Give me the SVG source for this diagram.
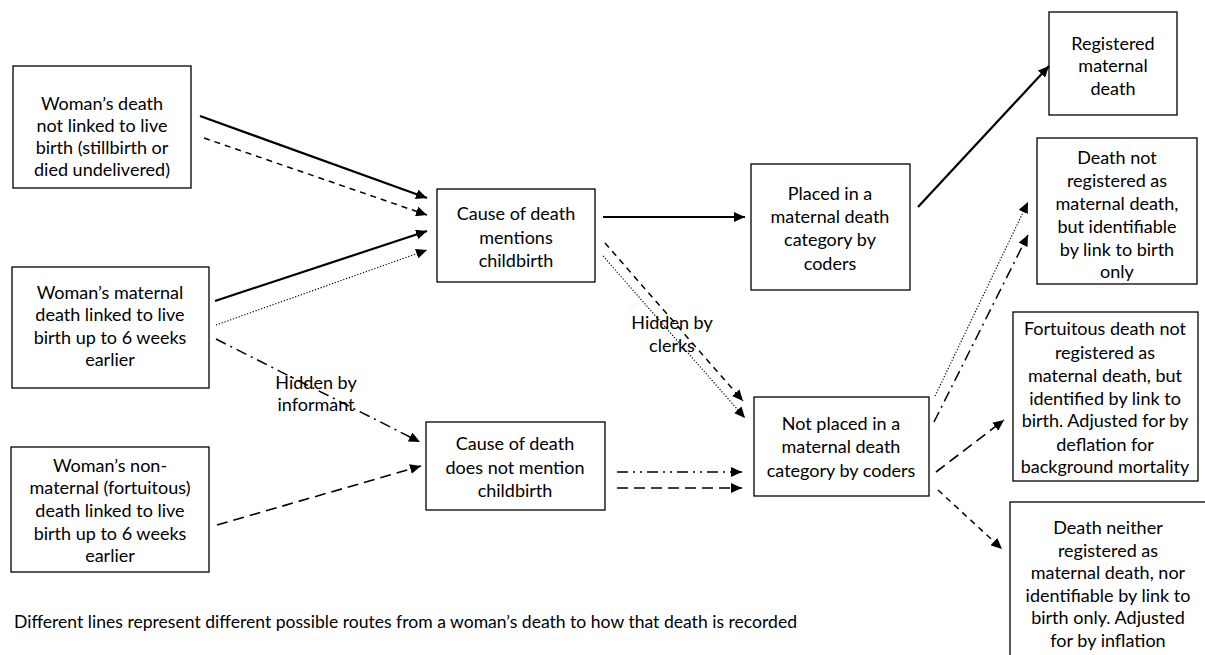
<svg xmlns="http://www.w3.org/2000/svg" width="1205" height="655" viewBox="0 0 1205 655">
<style>
.box{fill:#fff;stroke:#000;stroke-width:1.3}
text{font-family:Lato,"Open Sans","Liberation Sans",sans-serif;font-size:18px;fill:#000;text-anchor:middle;dominant-baseline:central}
.c{fill:none;stroke:#000}
.solid{stroke-width:2.2}
.dash{stroke-width:1.5;stroke-dasharray:6 5}
.dot{stroke-width:1.2;stroke-dasharray:1.2 1.8}
.long{stroke-width:1.6;stroke-dasharray:11 6}
.dd{stroke-width:1.5;stroke-dasharray:11 5 2 5}
.ddd{stroke-width:1.5;stroke-dasharray:11 5 2 5 2 5}
</style>
<defs>
<marker id="ah" markerUnits="userSpaceOnUse" markerWidth="12" markerHeight="10" refX="11" refY="5" orient="auto"><path d="M0,0 L11,5 L0,10 Z" fill="#000"/></marker>
</defs>
<g id="n1"><rect class="box" x="13" y="66" width="178" height="122"/>
<text x="102" y="103">Woman’s death</text><text x="102" y="125">not linked to live</text><text x="102" y="147">birth (stillbirth or</text><text x="102" y="169">died undelivered)</text></g>
<g id="n2"><rect class="box" x="12" y="267" width="197" height="121"/>
<text x="110" y="292">Woman’s maternal</text><text x="110" y="314">death linked to live</text><text x="110" y="337">birth up to 6 weeks</text><text x="110" y="359">earlier</text></g>
<g id="n3"><rect class="box" x="11" y="447" width="198" height="125"/>
<text x="110" y="465">Woman’s non-</text><text x="110" y="487">maternal (fortuitous)</text><text x="110" y="510">death linked to live</text><text x="110" y="533">birth up to 6 weeks</text><text x="110" y="555">earlier</text></g>
<g id="n4"><rect class="box" x="437" y="189" width="158" height="93"/>
<text x="516" y="213">Cause of death</text><text x="516" y="237">mentions</text><text x="516" y="260">childbirth</text></g>
<g id="n5"><rect class="box" x="426" y="422" width="179" height="88"/>
<text x="515" y="443">Cause of death</text><text x="515" y="467">does not mention</text><text x="515" y="490">childbirth</text></g>
<g id="n6"><rect class="box" x="751" y="164" width="159" height="126"/>
<text x="830" y="193">Placed in a</text><text x="830" y="216">maternal death</text><text x="830" y="239">category by</text><text x="830" y="263">coders</text></g>
<g id="n7"><rect class="box" x="754" y="397" width="175" height="99"/>
<text x="841" y="423">Not placed in a</text><text x="841" y="446">maternal death</text><text x="841" y="470">category by coders</text></g>
<g id="n8"><rect class="box" x="1049" y="12" width="128" height="103"/>
<text x="1113" y="43">Registered</text><text x="1113" y="65">maternal</text><text x="1113" y="88">death</text></g>
<g id="n9"><rect class="box" x="1037" y="138" width="160" height="146"/>
<text x="1117" y="157">Death not</text><text x="1117" y="180">registered as</text><text x="1117" y="203">maternal death,</text><text x="1117" y="226">but identifiable</text><text x="1117" y="249">by link to birth</text><text x="1117" y="271">only</text></g>
<g id="n10"><rect class="box" x="1013" y="312" width="185" height="169"/>
<text x="1105" y="328">Fortuitous death not</text><text x="1105" y="352">registered as</text><text x="1105" y="375">maternal death, but</text><text x="1105" y="398">identified by link to</text><text x="1105" y="420">birth. Adjusted for by</text><text x="1105" y="444">deflation for</text><text x="1105" y="466">background mortality</text></g>
<g id="n11"><rect class="box" x="1010" y="502" width="200" height="160"/>
<text x="1108" y="527">Death neither</text><text x="1108" y="550">registered as</text><text x="1108" y="572">maternal death, nor</text><text x="1108" y="595">identifiable by link to</text><text x="1108" y="617">birth only. Adjusted</text><text x="1108" y="640">for by inflation</text></g>
<g id="connectors">
<line class="c solid" x1="200" y1="116" x2="427" y2="198" marker-end="url(#ah)"/>
<line class="c dash" x1="204" y1="138" x2="427" y2="215" marker-end="url(#ah)"/>
<line class="c solid" x1="215" y1="301" x2="427" y2="231" marker-end="url(#ah)"/>
<line class="c dot" x1="216" y1="325" x2="427" y2="250" marker-end="url(#ah)"/>
<line class="c dd" x1="216" y1="339" x2="420" y2="442" marker-end="url(#ah)"/>
<line class="c long" x1="217" y1="525" x2="421" y2="466" marker-end="url(#ah)"/>
<line class="c solid" x1="603" y1="217" x2="745" y2="217" marker-end="url(#ah)"/>
<line class="c dash" x1="605" y1="243" x2="743" y2="401" marker-end="url(#ah)"/>
<line class="c dot" x1="603" y1="256" x2="745" y2="418" marker-end="url(#ah)"/>
<line class="c ddd" x1="617" y1="472" x2="742" y2="472" marker-end="url(#ah)"/>
<line class="c long" x1="617" y1="488" x2="742" y2="488" marker-end="url(#ah)"/>
<line class="c solid" x1="918" y1="207" x2="1049" y2="66" marker-end="url(#ah)"/>
<line class="c dot" x1="935" y1="396" x2="1028" y2="202" marker-end="url(#ah)"/>
<line class="c dd" x1="934" y1="422" x2="1028" y2="235" marker-end="url(#ah)"/>
<line class="c long" x1="936" y1="472" x2="1004" y2="420" marker-end="url(#ah)"/>
<line class="c dash" x1="938" y1="490" x2="1002" y2="549" marker-end="url(#ah)"/>
</g>
<text x="316" y="382">Hidden by</text><text x="316" y="404">informant</text>
<text x="672" y="322">Hidden by</text><text x="672" y="345">clerks</text>
<text x="14" y="621" style="text-anchor:start" textLength="783" lengthAdjust="spacingAndGlyphs">Different lines represent different possible routes from a woman’s death to how that death is recorded</text>
</svg>
